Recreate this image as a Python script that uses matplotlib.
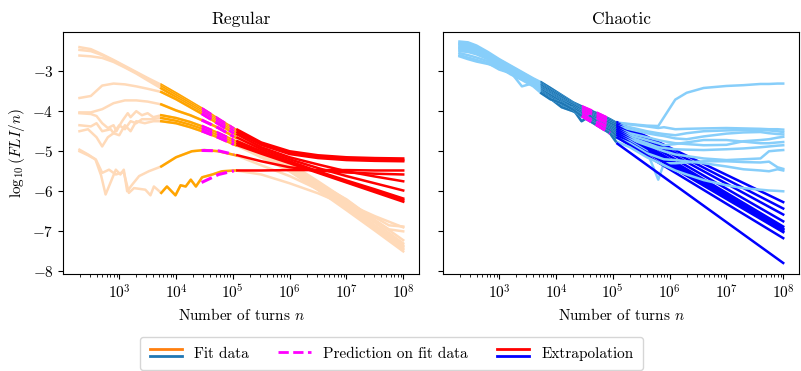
import matplotlib.pyplot as plt
from matplotlib.legend_handler import HandlerBase
from matplotlib.lines import Line2D
from matplotlib.ticker import MultipleLocator
import numpy as np

plt.rcParams["font.family"] = "serif"
plt.rcParams["font.serif"] = ["cmr10"]
plt.rcParams["mathtext.fontset"] = "cm"
plt.rcParams["axes.formatter.use_mathtext"] = True
plt.rcParams["font.size"] = 11

# fit window in log10(turns)
FIT_LO, FIT_HI = 3.74, 5.05

# ---------------- regular orbits: log10(n) and log10(FLI/n) ----------------
reg_grid = [2.3, 2.5, 2.7, 2.9, 3.1, 3.3, 3.5, 3.74, 4.0, 4.25, 4.5, 4.75, 5.05,
            5.5, 6.0, 6.5, 7.0, 7.5, 8.0]
reg_a = [-2.40, -2.45, -2.58, -2.72, -2.87, -3.02, -3.17, -3.34, -3.55, -3.76, -3.97,
         -4.20, -4.46, -4.85, -5.30, -5.75, -6.22, -6.72, -7.22]
reg_b = [-2.47, -2.50, -2.60, -2.74, -2.89, -3.04, -3.20, -3.38, -3.60, -3.80, -4.02,
         -4.24, -4.50, -4.90, -5.35, -5.80, -6.28, -6.78, -7.30]
reg_c = [-2.61, -2.63, -2.67, -2.77, -2.91, -3.06, -3.23, -3.43, -3.65, -3.85, -4.06,
         -4.28, -4.53, -4.93, -5.40, -5.86, -6.35, -6.86, -7.38]
reg_d = [-3.67, -3.62, -3.36, -3.31, -3.33, -3.38, -3.44, -3.52, -3.70, -3.90, -4.10,
         -4.32, -4.58, -4.98, -5.45, -5.92, -6.42, -6.93, -7.45]
reg_e = [-4.03, -4.03, -3.95, -3.80, -3.73, -3.73, -3.76, -3.83, -3.98, -4.10, -4.25,
         -4.42, -4.66, -5.05, -5.50, -5.97, -6.47, -6.98, -7.50]

reg_f_n = [2.3, 2.5, 2.6, 2.7, 2.8, 2.9, 2.95, 3.05, 3.15, 3.2, 3.3, 3.4, 3.5, 3.6, 3.74,
           4.0, 4.25, 4.5, 4.75, 5.05, 5.5, 6.0, 6.5, 7.0, 7.5, 8.0]
reg_f = [-4.05, -4.07, -4.12, -4.30, -4.42, -4.35, -4.50, -4.25, -4.05, -4.15, -4.00,
         -4.10, -4.05, -4.15, -4.10, -4.17, -4.27, -4.40, -4.55, -4.75, -5.10, -5.45,
         -5.85, -6.30, -6.85, -7.35]
reg_g_n = [2.3, 2.5, 2.6, 2.7, 2.85, 2.9, 3.0, 3.1, 3.2, 3.3, 3.4, 3.55, 3.74,
           4.0, 4.25, 4.5, 4.75, 5.05, 5.5, 6.0, 6.5, 7.0, 7.5, 8.0]
reg_g = [-4.35, -4.38, -4.30, -4.50, -4.45, -4.55, -4.35, -4.45, -4.25, -4.30, -4.20,
         -4.20, -4.17, -4.24, -4.34, -4.46, -4.61, -4.80, -5.15, -5.50, -5.90, -6.35,
         -6.90, -7.42]
reg_h_n = [2.3, 2.45, 2.6, 2.7, 2.8, 2.9, 3.0, 3.1, 3.2, 3.3, 3.45, 3.6, 3.74,
           4.0, 4.25, 4.5, 4.75, 5.05, 5.5, 6.0, 6.5, 7.0, 7.5, 7.75, 8.0]
reg_h = [-4.50, -4.45, -4.65, -4.88, -4.65, -4.55, -4.60, -4.35, -4.50, -4.25, -4.30,
         -4.25, -4.25, -4.30, -4.40, -4.52, -4.66, -4.85, -5.15, -5.45, -5.80, -6.20,
         -6.72, -6.95, -7.00]
reg_i_n = [2.3, 2.45, 2.58, 2.68, 2.76, 2.94, 3.02, 3.08, 3.14, 3.23, 3.35, 3.52, 3.74,
           4.0, 4.28, 4.5, 4.75, 5.05, 5.5, 6.0, 6.5, 7.0, 7.5, 8.0]
reg_i = [-4.96, -5.08, -5.20, -5.60, -6.08, -5.46, -5.58, -5.46, -6.00, -5.83, -5.62,
         -5.50, -5.38, -5.15, -5.00, -4.97, -5.00, -5.10, -5.35, -5.62, -5.95, -6.30,
         -6.62, -6.90]
reg_j_n = [2.3, 2.45, 2.59, 2.7, 2.82, 2.94, 3.08, 3.17, 3.26, 3.46, 3.55, 3.61, 3.74,
           3.84, 3.99, 4.08, 4.17, 4.26, 4.35, 4.46, 4.64, 4.81, 5.05, 5.5, 6.0, 6.5,
           7.0, 7.5, 7.75, 8.0]
reg_j = [-5.00, -5.10, -5.21, -5.54, -5.46, -5.58, -5.52, -6.04, -5.92, -5.96, -6.10,
         -5.88, -6.04, -5.88, -6.10, -5.85, -5.88, -5.71, -5.88, -5.65, -5.58, -5.50,
         -5.48, -5.58, -5.80, -6.05, -6.35, -6.65, -6.85, -6.88]

reg_logn = [reg_grid] * 5 + [reg_f_n, reg_g_n, reg_h_n, reg_i_n, reg_j_n]
reg_logfli = [reg_a, reg_b, reg_c, reg_d, reg_e, reg_f, reg_g, reg_h, reg_i, reg_j]

reg_pred_n = [4.45, 4.75, 5.02]
reg_pred = [[-3.93, -4.20, -4.44], [-3.98, -4.24, -4.48], [-4.02, -4.28, -4.51],
            [-4.06, -4.32, -4.56], [-4.22, -4.42, -4.64], [-4.37, -4.55, -4.73],
            [-4.43, -4.61, -4.78], [-4.49, -4.66, -4.83], [-4.98, -4.99, -5.08],
            [-5.78, -5.58, -5.49]]

reg_ext_n = [5.08, 5.5, 6.0, 6.5, 7.0, 7.5, 8.0]
reg_ext = [[-4.46, -4.78, -5.00, -5.10, -5.15, -5.17, -5.18],
           [-4.50, -4.80, -5.03, -5.13, -5.18, -5.20, -5.22],
           [-4.53, -4.84, -5.07, -5.17, -5.22, -5.24, -5.25],
           [-4.58, -4.90, -5.15, -5.33, -5.50, -5.63, -5.75],
           [-4.66, -4.95, -5.20, -5.42, -5.62, -5.80, -5.98],
           [-4.75, -5.00, -5.25, -5.50, -5.73, -5.95, -6.18],
           [-4.80, -5.03, -5.27, -5.52, -5.76, -5.99, -6.22],
           [-4.85, -5.06, -5.30, -5.54, -5.78, -6.02, -6.26],
           [-5.10, -5.25, -5.40, -5.48, -5.53, -5.56, -5.58],
           [-5.48, -5.48, -5.47, -5.47, -5.47, -5.48, -5.48]]

# ---------------- chaotic orbits ----------------
ch_pre_n = [2.3, 2.45, 2.6, 2.8, 3.0, 3.2, 3.4, 3.6, 3.74, 3.9, 4.1, 4.3, 4.45, 4.6,
            4.8, 4.95, 5.05]
ch_pre = [
    [-2.26, -2.28, -2.36, -2.52, -2.70, -2.86, -3.02, -3.18, -3.28, -3.42, -3.60, -3.78, -3.88, -3.98, -4.10, -4.20, -4.28],
    [-2.30, -2.32, -2.40, -2.56, -2.72, -2.88, -3.04, -3.20, -3.31, -3.46, -3.62, -3.80, -3.92, -4.02, -4.14, -4.22, -4.30],
    [-2.33, -2.36, -2.44, -2.60, -2.75, -2.90, -3.06, -3.22, -3.34, -3.48, -3.66, -3.82, -3.95, -4.05, -4.18, -4.26, -4.33],
    [-2.36, -2.38, -2.47, -2.62, -2.77, -2.93, -3.08, -3.24, -3.36, -3.52, -3.70, -3.84, -3.97, -4.08, -4.20, -4.30, -4.37],
    [-2.40, -2.42, -2.50, -2.64, -2.80, -2.95, -3.12, -3.27, -3.40, -3.55, -3.72, -3.90, -4.00, -4.10, -4.25, -4.35, -4.42],
    [-2.43, -2.45, -2.53, -2.66, -2.82, -2.98, -3.14, -3.30, -3.42, -3.58, -3.75, -3.88, -4.02, -4.15, -4.28, -4.38, -4.46],
    [-2.46, -2.48, -2.55, -2.68, -2.84, -3.00, -3.18, -3.32, -3.45, -3.60, -3.85, -3.92, -4.05, -4.18, -4.30, -4.42, -4.50],
    [-2.50, -2.52, -2.58, -2.70, -2.86, -3.02, -3.38, -3.30, -3.47, -3.60, -3.78, -3.95, -4.25, -4.12, -4.35, -4.45, -4.55],
    [-2.55, -2.60, -2.66, -2.75, -2.88, -3.03, -3.17, -3.33, -3.50, -3.65, -3.82, -3.98, -4.08, -4.20, -4.38, -4.48, -4.60],
    [-2.60, -2.66, -2.72, -2.80, -2.96, -3.05, -3.20, -3.35, -3.52, -3.68, -3.90, -4.00, -4.10, -4.24, -4.40, -4.55, -4.66],
    [-2.63, -2.70, -2.76, -2.82, -2.90, -3.08, -3.22, -3.38, -3.55, -3.70, -3.80, -3.96, -4.12, -4.25, -4.42, -4.55, -4.75],
]
ch_post_n = [5.3, 5.6, 5.8, 5.9, 6.1, 6.3, 6.6, 7.0, 7.3, 7.6, 7.75, 7.9, 8.0]
ch_post = [
    [-4.32, -4.36, -4.37, -4.15, -3.71, -3.54, -3.42, -3.37, -3.35, -3.32, -3.32, -3.31, -3.31],
    [-4.33, -4.38, -4.42, -4.40, -4.45, -4.44, -4.43, -4.42, -4.43, -4.44, -4.45, -4.45, -4.46],
    [-4.40, -4.50, -4.55, -4.57, -4.60, -4.55, -4.50, -4.48, -4.47, -4.47, -4.48, -4.50, -4.52],
    [-4.45, -4.55, -4.60, -4.62, -4.68, -4.70, -4.63, -4.56, -4.53, -4.52, -4.55, -4.57, -4.58],
    [-4.55, -4.65, -4.72, -4.75, -4.80, -4.82, -4.85, -4.84, -4.75, -4.72, -4.70, -4.66, -4.64],
    [-4.60, -4.72, -4.80, -4.85, -4.82, -4.78, -4.72, -4.72, -4.76, -4.80, -4.80, -4.78, -4.77],
    [-4.65, -4.80, -4.90, -4.92, -4.95, -4.96, -4.97, -4.95, -4.93, -4.90, -4.88, -4.86, -4.85],
    [-4.70, -4.85, -4.95, -5.00, -5.08, -5.12, -5.18, -5.22, -5.20, -5.18, -5.00, -4.98, -4.97],
    [-4.75, -5.00, -5.71, -5.30, -5.30, -5.28, -5.25, -5.25, -5.27, -5.28, -5.26, -5.40, -5.44],
    [-4.80, -5.05, -5.15, -5.20, -5.22, -5.25, -5.30, -5.38, -5.45, -5.48, -5.50, -5.45, -5.48],
    [-4.90, -5.15, -5.28, -5.35, -5.48, -5.58, -5.72, -5.85, -5.92, -5.96, -5.98, -5.99, -6.00],
]
ch_pred_n = [4.45, 4.7, 4.95]
ch_pred = [[-3.88, -4.03, -4.20], [-3.92, -4.08, -4.22], [-3.95, -4.11, -4.26],
           [-3.97, -4.14, -4.30], [-4.00, -4.17, -4.35], [-4.02, -4.21, -4.38],
           [-4.05, -4.24, -4.42], [-4.08, -4.26, -4.45], [-4.08, -4.29, -4.48],
           [-4.10, -4.32, -4.55], [-4.12, -4.33, -4.55]]
ch_ext_n = [5.08, 8.0]
ch_ext = [[-4.28, -6.27], [-4.30, -6.43], [-4.33, -6.58], [-4.37, -6.75], [-4.42, -6.88],
          [-4.46, -6.93], [-4.50, -6.96], [-4.55, -7.00], [-4.60, -7.02], [-4.66, -7.17],
          [-4.81, -7.79]]


def draw_orbit(ax, logn, logfli, pred_n, pred, ext_n, ext, c_data, c_fit, c_ext):
    logn = np.asarray(logn)
    logfli = np.asarray(logfli)
    ax.plot(10.0 ** logn, logfli, color=c_data, lw=1.8)
    inside = (logn >= FIT_LO) & (logn <= FIT_HI)
    ax.plot(10.0 ** logn[inside], logfli[inside], color=c_fit, lw=1.8)
    ax.plot(10.0 ** np.asarray(pred_n), pred, color="magenta", ls="--", lw=2.2)
    ax.plot(10.0 ** np.asarray(ext_n), ext, color=c_ext, lw=1.8)


class HandlerStacked(HandlerBase):
    """two solid lines stacked on top of each other"""
    def create_artists(self, legend, orig_handle, xdescent, ydescent, width, height,
                       fontsize, trans):
        mid = (height - ydescent) / 2.0
        out = []
        for dy, line in zip((0.27 * height, -0.27 * height), orig_handle):
            l = Line2D([-xdescent, width - xdescent], [mid + dy, mid + dy],
                       color=line.get_color(), lw=line.get_linewidth())
            l.set_transform(trans)
            out.append(l)
        return out


fig, (ax1, ax2) = plt.subplots(1, 2, sharey=True, figsize=(8.01, 3.71), dpi=100)
fig.subplots_adjust(left=0.079, right=0.998, bottom=0.262, top=0.914, wspace=0.067)

for n, y, p, e in zip(reg_logn, reg_logfli, reg_pred, reg_ext):
    draw_orbit(ax1, n, y, reg_pred_n, p, reg_ext_n, e, "peachpuff", "orange", "red")

for y, post, p, e in zip(ch_pre, ch_post, ch_pred, ch_ext):
    draw_orbit(ax2, ch_pre_n + ch_post_n, y + post, ch_pred_n, p, ch_ext_n, e,
               "lightskyblue", "tab:blue", "blue")

for ax, title in ((ax1, "Regular"), (ax2, "Chaotic")):
    ax.set_xscale("log")
    ax.set_xlim(10 ** 2.015, 10 ** 8.285)
    ax.set_title(title, fontsize=12.5)
    ax.set_xlabel(r"Number of turns $n$")
    ax.yaxis.set_major_locator(MultipleLocator(1))
ax1.set_ylim(-8.06, -2.02)
ax1.set_ylabel(r"$\log_{10}(FLI/n)$")

fit_h = (Line2D([], [], color="tab:orange", lw=2), Line2D([], [], color="tab:blue", lw=2))
pred_h = Line2D([], [], color="magenta", ls="--", lw=2)
ext_h = (Line2D([], [], color="red", lw=2), Line2D([], [], color="blue", lw=2))
fig.legend([fit_h, pred_h, ext_h], ["Fit data", "Prediction on fit data", "Extrapolation"],
           loc="upper center", bbox_to_anchor=(0.489, 0.112), ncol=3,
           handler_map={tuple: HandlerStacked()}, handlelength=2.1, handleheight=1.0,
           borderpad=0.6, columnspacing=1.95)

fig.savefig("out.png", dpi=100)
